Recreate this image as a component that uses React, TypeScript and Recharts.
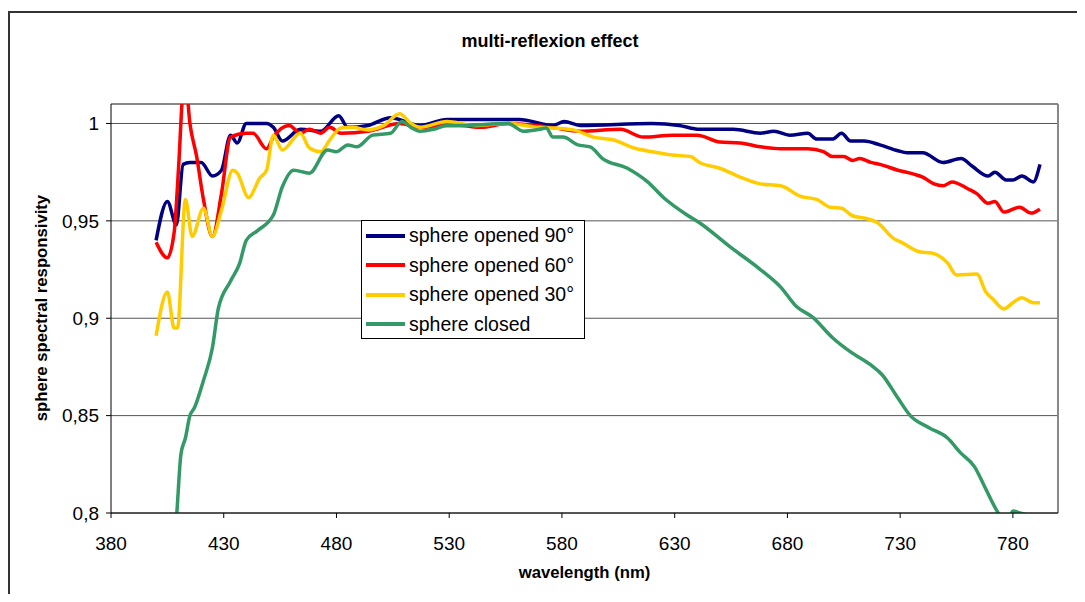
import React from 'react'
import {
  LineChart, Line, XAxis, YAxis, CartesianGrid, Legend, ReferenceLine,
} from 'recharts'

// ── Data ─────────────────────────────────────────────────────────────────────

const xTicks = [380, 430, 480, 530, 580, 630, 680, 730, 780]
const yTicks = [0.8, 0.85, 0.9, 0.95, 1]

// [wavelength nm, responsivity]
const opened90: [number, number][] = [
  [400, 0.940], [405, 0.960], [409, 0.948], [412, 0.979], [415, 0.980], [420, 0.980],
  [425, 0.973], [429, 0.976], [433, 0.994], [436, 0.990], [440, 1.000], [449, 1.000],
  [452, 0.998], [456, 0.991], [464, 0.997], [473, 0.996], [481, 1.004], [485, 0.998],
  [494, 0.999], [504, 1.003], [517, 0.999], [529, 1.002], [541, 1.002], [561, 1.002],
  [576, 0.999], [581, 1.001], [588, 0.999], [620, 1.000], [632, 0.999], [641, 0.997],
  [656, 0.997], [668, 0.995], [674, 0.996], [681, 0.994], [689, 0.995], [693, 0.992],
  [700, 0.992], [704, 0.995], [708, 0.991], [714, 0.991], [721, 0.989], [729, 0.986],
  [733, 0.985], [740, 0.985], [749, 0.980], [757, 0.982], [762, 0.978], [769, 0.973],
  [772, 0.975], [777, 0.971], [780, 0.971], [784, 0.973], [789, 0.970], [792, 0.979],
]

const opened60: [number, number][] = [
  [400, 0.939], [405, 0.931], [408, 0.944], [410, 0.978], [412, 1.018], [413, 1.022],
  [415, 1.000], [418, 0.983], [421, 0.961], [425, 0.942], [429, 0.964], [433, 0.993],
  [440, 0.995], [443, 0.995], [449, 0.987], [452, 0.993], [459, 0.999], [464, 0.995],
  [468, 0.997], [473, 0.995], [477, 0.998], [482, 0.995], [494, 0.996], [508, 1.000],
  [517, 0.998], [527, 0.999], [535, 0.999], [544, 0.998], [556, 1.000], [575, 0.998],
  [588, 0.996], [606, 0.997], [616, 0.993], [629, 0.994], [640, 0.994], [650, 0.9905],
  [659, 0.990], [668, 0.988], [677, 0.987], [689, 0.987], [696, 0.9855], [700, 0.983],
  [705, 0.983], [709, 0.981], [712, 0.982], [717, 0.980], [721, 0.979], [729, 0.976],
  [736, 0.974], [740, 0.9725], [745, 0.969], [749, 0.968], [753, 0.970], [760, 0.9665],
  [764, 0.964], [769, 0.959], [772, 0.960], [776, 0.9545], [783, 0.957], [788, 0.954],
  [792, 0.956],
]

const opened30: [number, number][] = [
  [400, 0.891], [405, 0.9135], [408, 0.895], [409.5, 0.895], [413, 0.961], [416, 0.942],
  [421, 0.9565], [425, 0.942], [429, 0.9555], [434, 0.976], [436, 0.9745], [441, 0.962],
  [446, 0.972], [449, 0.976], [452, 0.994], [456, 0.9864], [464, 0.995], [468, 0.9874],
  [473, 0.9855], [477, 0.9915], [482, 0.9977], [487, 0.998], [494, 0.9967], [501, 0.999],
  [508, 1.005], [513, 1.000], [517, 0.998], [529, 1.001], [541, 0.999], [556, 1.000],
  [570, 0.998], [576, 0.9977], [585, 0.9967], [594, 0.993], [603, 0.9915], [612, 0.9874],
  [620, 0.9855], [629, 0.9838], [637, 0.983], [641, 0.980], [650, 0.977], [659, 0.9725],
  [668, 0.969], [677, 0.968], [686, 0.9625], [693, 0.961], [699, 0.957], [704, 0.9565],
  [709, 0.9525], [714, 0.9515], [720, 0.949], [727, 0.941], [731, 0.9387], [739, 0.934],
  [744, 0.9335], [751, 0.9284], [755, 0.9222], [764, 0.9227], [768, 0.9135], [771, 0.910],
  [776, 0.9048], [780, 0.908], [784, 0.9105], [789, 0.908], [792, 0.908],
]

const closed: [number, number][] = [
  [407, 0.775], [409, 0.797], [411, 0.830], [413, 0.8385], [415, 0.850], [417, 0.854],
  [421, 0.868], [425, 0.885], [427.6, 0.905], [433, 0.919], [437, 0.928], [440, 0.940],
  [445, 0.945], [452, 0.953], [456, 0.9675], [461, 0.976], [468, 0.9745], [476, 0.9864],
  [480, 0.9855], [485, 0.989], [489, 0.988], [496, 0.994], [504, 0.995], [509, 1.001],
  [513, 0.998], [517, 0.996], [523, 0.997], [529, 0.999], [535, 0.999], [556, 1.000],
  [563, 0.996], [570, 0.997], [573, 0.9977], [576, 0.993], [580.5, 0.993], [587, 0.989],
  [592.5, 0.988], [598, 0.982], [609, 0.977], [618, 0.970], [625, 0.962], [635.5, 0.953],
  [641, 0.949], [654.6, 0.9366], [668, 0.925], [677, 0.916], [684, 0.906], [691, 0.9007],
  [700, 0.890], [708, 0.8827], [717, 0.876], [722, 0.871], [729, 0.859], [734.5, 0.850],
  [743, 0.8437], [751, 0.8385], [756.7, 0.831], [763, 0.8237], [767.7, 0.813], [773, 0.801],
  [776, 0.796], [778, 0.797], [780, 0.801], [783, 0.800], [786, 0.799], [790, 0.792],
]

const series = [
  { name: 'sphere opened 90°', color: '#000080', pts: opened90 },
  { name: 'sphere opened 60°', color: '#ff0000', pts: opened60 },
  { name: 'sphere opened 30°', color: '#ffcc00', pts: opened30 },
  { name: 'sphere closed', color: '#339966', pts: closed },
]

const FONT = 'Arial, "Liberation Sans", sans-serif'

const fmtY = (v: number) => String(v).replace('.', ',')

// ── Legend ───────────────────────────────────────────────────────────────────

function LegendBox() {
  return (
    <div style={{
      border: '1px solid #000', background: '#fff', width: 224, height: 119,
      boxSizing: 'border-box', paddingLeft: 4, fontFamily: FONT,
    }}>
      {series.map(s => (
        <div key={s.name} style={{ display: 'flex', alignItems: 'center', height: 29.5 }}>
          <span style={{ width: 39, height: 4, background: s.color, marginRight: 4, flexShrink: 0 }} />
          <span style={{ fontSize: 19.5, color: '#000', whiteSpace: 'nowrap' }}>{s.name}</span>
        </div>
      ))}
    </div>
  )
}

// ── Chart ────────────────────────────────────────────────────────────────────

export default function App() {
  return (
    <div style={{
      position: 'relative', width: 1077, height: 594, marginBottom: -8,
      overflow: 'hidden', fontFamily: FONT, background: '#fff',
    }}>
      <div style={{
        position: 'absolute', left: 0, top: 3, width: 1200, height: 700,
        border: '2px solid #333',
      }} />
      <div style={{
        position: 'absolute', left: 0, top: 23, width: 1084, textAlign: 'center',
        fontWeight: 'bold', fontSize: 18, color: '#000',
      }}>
        multi-reflexion effect
      </div>
      <div style={{
        position: 'absolute', left: 34, top: 300, width: 0, height: 0,
      }}>
        <div style={{
          position: 'absolute', transform: 'translate(-50%, -50%) rotate(-90deg)',
          whiteSpace: 'nowrap', fontWeight: 'bold', fontSize: 16.7, color: '#000',
        }}>
          sphere spectral responsivity
        </div>
      </div>
      <div style={{
        position: 'absolute', left: 0, top: 555, width: 1153, textAlign: 'center',
        fontWeight: 'bold', fontSize: 16.7, color: '#000',
      }}>
        wavelength (nm)
      </div>
      <LineChart
        width={1077}
        height={594}
        margin={{ top: 96, right: 27, left: 0, bottom: 0 }}
        style={{ position: 'absolute', left: 0, top: 0 }}
      >
        <CartesianGrid vertical={false} stroke="#555" strokeWidth={1} />
        <ReferenceLine y={1.01} stroke="#888" strokeWidth={2} />
        <ReferenceLine x={800} stroke="#888" strokeWidth={2} />
        <XAxis
          dataKey="x"
          type="number"
          domain={[380, 800]}
          ticks={xTicks}
          height={89}
          tickSize={5}
          tickMargin={19}
          axisLine={{ stroke: '#000' }}
          tickLine={{ stroke: '#000' }}
          tick={{ fill: '#000', fontSize: 19, fontFamily: FONT }}
          allowDuplicatedCategory={false}
        />
        <YAxis
          type="number"
          domain={[0.8, 1.01]}
          ticks={yTicks}
          allowDataOverflow
          width={103}
          tickSize={5}
          tickMargin={7}
          tickFormatter={fmtY}
          axisLine={{ stroke: '#000' }}
          tickLine={{ stroke: '#000' }}
          tick={{ fill: '#000', fontSize: 19, fontFamily: FONT }}
        />
        <Legend
          layout="horizontal"
          align="center"
          verticalAlign="middle"
          content={() => <LegendBox />}
          wrapperStyle={{ left: 353, top: 212, width: 224, height: 119 }}
        />
        {series.map(s => (
          <Line
            key={s.name}
            name={s.name}
            data={s.pts.map(([x, y]) => ({ x, y }))}
            dataKey="y"
            type="monotone"
            stroke={s.color}
            strokeWidth={3.5}
            dot={false}
            activeDot={false}
            isAnimationActive={false}
          />
        ))}
      </LineChart>
    </div>
  )
}
